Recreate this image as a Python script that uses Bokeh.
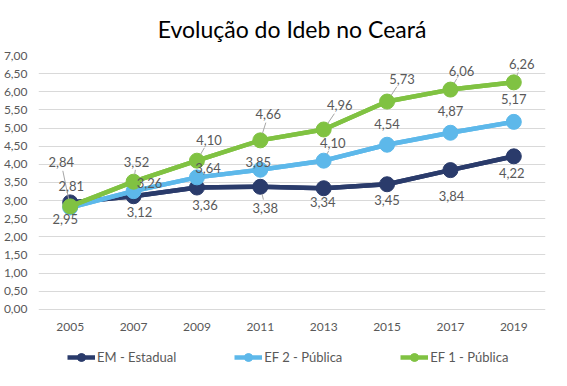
import math
from bokeh.plotting import figure
from bokeh.models import (ColumnDataSource, FixedTicker, CustomJSTickFormatter,
                          Legend, LegendItem, Range1d)
from bokeh.core.properties import value
from bokeh.embed import file_html
from bokeh.resources import INLINE

years = [2005, 2007, 2009, 2011, 2013, 2015, 2017, 2019]
year_labels = ["2005", "2007", "2009", "2011", "2013", "2015", "2017", "2019"]
em_estadual = [2.95, 3.12, 3.36, 3.38, 3.34, 3.45, 3.84, 4.22]
ef2_publica = [2.81, 3.26, 3.64, 3.85, 4.10, 4.54, 4.87, 5.17]
ef1_publica = [2.84, 3.52, 4.10, 4.66, 4.96, 5.73, 6.06, 6.26]
y_ticks = [0, 0.5, 1, 1.5, 2, 2.5, 3, 3.5, 4, 4.5, 5, 5.5, 6, 6.5, 7]

# label offsets in screen pixels (dx right, dy up) and leader-line flags
em_dx = [-5, 6, 8, 5, -1, 0, 1, -2]
em_dy = [-17, -16, -17, -21, -14, -16, -26, -17]
em_lead = [0, 0, 0, 1, 0, 0, 0, 0]
ef2_dx = [1, 16, 11, -2, 9, 0, 0, 0]
ef2_dy = [21, 8, 9, 8, 18, 21, 22, 23]
ef2_lead = [0, 0, 0, 0, 1, 0, 0, 0]
ef1_dx = [-9, 3, 12, 8, 16, 15, 11, 8]
ef1_dy = [44, 20, 21, 26, 24, 23, 19, 18]
ef1_lead = [1, 1, 1, 1, 1, 1, 1, 1]

FONT = "Lato"
GRAY = "#595959"
LEAD = "#a6a6a6"
C_EM = "#2A3B6B"
C_EF2 = "#5DB8EA"
C_EF1 = "#80C242"

X0, X1 = 2004, 2020
Y0, Y1 = -1.63, 7
FRAME_W, FRAME_H = 508, 317

p = figure(width=551, height=370, output_backend="svg", toolbar_location=None,
           x_range=Range1d(X0, X1), y_range=Range1d(Y0, Y1),
           min_border_left=37, min_border_right=6, min_border_top=51,
           min_border_bottom=2)
p.outline_line_color = None
p.background_fill_color = "white"
p.border_fill_color = "white"

p.title.text = "Evolução do Ideb no Ceará"
p.title.align = "center"
p.title.text_font = FONT
p.title.text_font_size = "23px"
p.title.text_font_style = "normal"
p.title.text_color = "#000000"
p.title.standoff = 25

p.xgrid.grid_line_color = None
p.ygrid.grid_line_color = "#d9d9d9"
p.ygrid.grid_line_width = 1
p.ygrid.ticker = FixedTicker(ticks=y_ticks)

p.yaxis.ticker = FixedTicker(ticks=y_ticks)
p.yaxis.formatter = CustomJSTickFormatter(code="return tick.toFixed(2).replace('.', ',');")
p.yaxis.axis_line_color = None
p.yaxis.major_tick_line_color = None
p.yaxis.minor_tick_line_color = None
p.yaxis.major_label_standoff = 5
p.yaxis.major_label_text_font = FONT
p.yaxis.major_label_text_font_size = "12px"
p.yaxis.major_label_text_color = GRAY

p.xaxis.visible = False

# category labels along the zero line
xsrc = ColumnDataSource(dict(x=years, y=[0] * len(years), lab=year_labels))
p.text("x", "y", text="lab", source=xsrc, y_offset=18,
       text_align="center", text_baseline="middle",
       text_font=value(FONT), text_font_size="12px", text_color=GRAY)

px_x = FRAME_W / (X1 - X0)
px_y = FRAME_H / (Y1 - Y0)

series = [("EM - Estadual", em_estadual, C_EM, em_dx, em_dy, em_lead),
          ("EF 2 - Pública", ef2_publica, C_EF2, ef2_dx, ef2_dy, ef2_lead),
          ("EF 1 - Pública", ef1_publica, C_EF1, ef1_dx, ef1_dy, ef1_lead)]
sources = []
legend_items = []
for name, vals, col, dx, dy, lead in series:
    src = ColumnDataSource(dict(x=years, y=vals,
                                lab=[f"{v:.2f}".replace(".", ",") for v in vals],
                                dx=dx, dy=[-d for d in dy]))
    # legend proxies (hidden under the real marks) with a smaller marker
    lg1 = p.line("x", "y", source=src, line_color=col, line_width=4.5)
    lg2 = p.scatter("x", "y", source=src, size=9, fill_color=col, line_color=col)
    legend_items.append(LegendItem(label=name, renderers=[lg1, lg2]))
    p.line("x", "y", source=src, line_color=col, line_width=4.5)
    p.scatter("x", "y", source=src, size=15, fill_color=col, line_color=col)
    sources.append(src)

# leader lines from marker edge to label box edge
lx0, ly0, lx1, ly1 = [], [], [], []
for name, vals, col, dx, dy, lead in series:
    for xv, yv, ddx, ddy, f in zip(years, vals, dx, dy, lead):
        if not f:
            continue
        dist = math.hypot(ddx, ddy)
        t0 = 7.5 / dist
        t1 = 1 - min(13 / abs(ddx) if ddx else 1e9, 8 / abs(ddy) if ddy else 1e9)
        lx0.append(xv + ddx * t0 / px_x)
        ly0.append(yv + ddy * t0 / px_y)
        lx1.append(xv + ddx * t1 / px_x)
        ly1.append(yv + ddy * t1 / px_y)
p.segment(lx0, ly0, lx1, ly1, line_color=LEAD, line_width=1)

for src in sources:
    p.text("x", "y", text="lab", source=src, x_offset="dx", y_offset="dy",
           text_align="center", text_baseline="middle",
           text_font=value(FONT), text_font_size="13px", text_color=GRAY)

legend = Legend(items=legend_items,
                orientation="horizontal", location=(29, 1),
                border_line_color=None, background_fill_alpha=0,
                label_text_font=FONT, label_text_font_size="13px",
                label_text_color=GRAY, glyph_width=28, glyph_height=20,
                label_height=20, label_standoff=2,
                spacing=58, margin=0, padding=0)
p.add_layout(legend, "center")

open("out.html", "w").write(file_html(p, INLINE))
